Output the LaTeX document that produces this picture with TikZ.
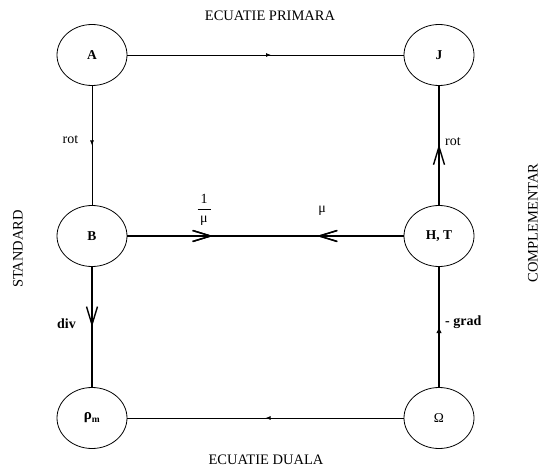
\documentclass[tikz,border=0pt]{standalone}
\usepackage{fontspec}
\setmainfont{Liberation Serif}
\usetikzlibrary{arrows.meta,decorations.markings,shapes.geometric}

\begin{document}
\begin{tikzpicture}[x=1pt,y=-1pt,
  state/.style={draw,ellipse,line width=0.8pt,minimum width=70pt,minimum height=61pt,
    inner sep=0pt,font=\fontsize{13.5}{15}\selectfont\bfseries},
  thinlink/.style={line width=0.8pt},
  thicklink/.style={line width=1.6pt},
  smalltip/.style={postaction={decorate},decoration={markings,
    mark=at position #1 with {\arrow{Latex[length=5pt,width=4pt]}}}},
  bigtip/.style={postaction={decorate},decoration={markings,
    mark=at position #1 with {\arrow{Latex[length=6pt,width=5.5pt]}}}},
  vtip/.style={postaction={decorate},decoration={markings,
    mark=at position #1 with {\arrow[line width=1.4pt]{Straight Barb[length=18pt,width=11pt]}}}},
  vtipback/.style={postaction={decorate},decoration={markings,
    mark=at position #1 with {\arrowreversed[line width=1.4pt]{Straight Barb[length=18pt,width=11pt]}}}},
  lbl/.style={font=\fontsize{14}{16}\selectfont},
  boldlbl/.style={font=\fontsize{14}{16}\selectfont\bfseries},
  caption/.style={font=\fontsize{14.5}{16}\selectfont}
]
\useasboundingbox (0,0) rectangle (541,468);

% the six quantities
\node[state] (A)  at (92,55)   {A};
\node[state] (J)  at (439,55)  {J};
\node[state] (B)  at (92,236)  {B};
\node[state] (HT) at (439,236) {H, T};
\node[state] (R)  at (92,418)  {{\fontsize{15}{15}\selectfont ρ}\textsubscript{m}};
\node[state] (O)  at (439,418) {\mdseries Ω};

% primary equation and its dual
\draw[thinlink,smalltip=0.52] (A) -- (J);
\draw[thinlink,smalltip=0.5] (O) -- (R);

% standard formulation
\draw[thinlink,smalltip=0.5] (A) -- node[lbl,left=10pt,pos=0.45] {rot} (B);
\draw[thicklink,vtip=0.5] (B) -- node[boldlbl,left=12pt,pos=0.47] {div} (R);

% complementary formulation
\draw[thicklink,vtip=0.51] (HT) -- node[lbl,right=2pt,pos=0.53] {rot} (J);
\draw[thicklink,bigtip=0.5] (O) -- node[boldlbl,right=2pt,pos=0.54] {- grad} (HT);

% constitutive link
\draw[thicklink,vtip=0.31,vtipback=0.686] (B) -- (HT);
\node[lbl] (inv) at (204,210)
  {$\displaystyle\frac{\hbox to 13pt{\hss 1\hss}}{\hbox{μ}}$};
\node[lbl] (mu)  at (322,211) {μ};

% frame captions
\node[caption] (top) at (270,16)  {ECUATIE PRIMARA};
\node[caption] (bot) at (266,460) {ECUATIE DUALA};
\node[caption,rotate=90] (left)  at (18,249)  {STANDARD};
\node[caption,rotate=90] (right) at (533,223) {COMPLEMENTAR};
\end{tikzpicture}
\end{document}
